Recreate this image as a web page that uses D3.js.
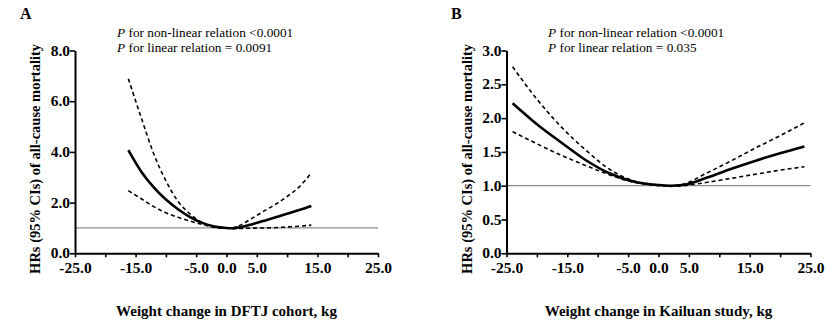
<!DOCTYPE html>
<html>
<head>
<meta charset="utf-8">
<script src="https://cdn.jsdelivr.net/npm/d3@7.9.0/dist/d3.min.js"></script>
<style>
  body { margin: 0; background: #fff; }
  svg text { font-family: "Liberation Serif", "Times New Roman", serif; fill: #000; }
</style>
</head>
<body>
<svg id="chart" width="831" height="325"></svg>
<script>
// Panel A: DFTJ cohort
const xA = [-16.2, -14, -12, -10, -8, -6, -4, -2, 0, 1, 2, 4, 6, 8, 10, 12, 14];
const hrA = [4.07, 3.20, 2.60, 2.12, 1.74, 1.43, 1.20, 1.06, 1.00, 0.99, 1.02, 1.13, 1.27, 1.41, 1.56, 1.71, 1.87];
const upA = [6.89, 5.30, 3.92, 2.86, 2.05, 1.55, 1.20, 1.05, 1.00, 1.01, 1.08, 1.35, 1.64, 1.92, 2.24, 2.62, 3.17];
const loA = [2.47, 2.14, 1.84, 1.60, 1.42, 1.27, 1.14, 1.03, 0.99, 0.98, 0.98, 0.99, 1.00, 1.01, 1.04, 1.07, 1.11];

// Panel B: Kailuan study
const xB = [-24, -20, -16, -12, -8, -4, -2, 0, 2, 4, 8, 12, 16, 20, 24];
const hrB = [2.22, 1.91, 1.64, 1.38, 1.18, 1.06, 1.03, 1.01, 1.00, 1.01, 1.12, 1.25, 1.37, 1.48, 1.58];
const upB = [2.76, 2.28, 1.87, 1.53, 1.24, 1.07, 1.03, 1.01, 1.00, 1.02, 1.19, 1.37, 1.56, 1.74, 1.93];
const loB = [1.80, 1.62, 1.45, 1.30, 1.16, 1.05, 1.02, 1.00, 0.99, 1.00, 1.05, 1.11, 1.17, 1.23, 1.28];

const xTicks = [-25, -20, -15, -10, -5, 0, 5, 10, 15, 20, 25];
const xTickLabels = [-25, -15, -5, 0, 5, 15, 25];
const yTicksA = [0, 2, 4, 6, 8];
const yTicksB = [0, 0.5, 1, 1.5, 2, 2.5, 3];

const yTitle = 'HRs (95% CIs) of all-cause mortality';

const panels = [
  { letter: 'A', x: xA, hr: hrA, up: upA, lo: loA, yTicks: yTicksA, yMax: 8,
    left: 75, right: 378, letterX: 20, textX: 117, yTitleX: 40,
    pLinear: '0.0091', xTitle: 'Weight change in DFTJ cohort, kg' },
  { letter: 'B', x: xB, hr: hrB, up: upB, lo: loB, yTicks: yTicksB, yMax: 3,
    left: 506.5, right: 810.5, letterX: 451, textX: 548, yTitleX: 472,
    pLinear: '0.035', xTitle: 'Weight change in Kailuan study, kg' }
];

const plotTop = 50.5, plotBottom = 253.3;
const fmt = (d) => d.toFixed(1);   // plain hyphen for negatives
const svg = d3.select('#chart');

panels.forEach((p) => {
  const x = d3.scaleLinear().domain([-25, 25]).range([p.left, p.right]);
  const y = d3.scaleLinear().domain([0, p.yMax]).range([plotBottom, plotTop]);
  const g = svg.append('g');

  // reference line at HR = 1
  g.append('line')
    .attr('x1', x(-25)).attr('x2', x(25))
    .attr('y1', y(1)).attr('y2', y(1))
    .attr('stroke', '#8a8a8a').attr('stroke-width', 1.3);

  const line = (vals) => d3.line()
    .x((d, i) => x(p.x[i]))
    .y((d) => y(d))
    .curve(d3.curveMonotoneX)(vals);

  g.append('path').attr('d', line(p.up))
    .attr('fill', 'none').attr('stroke', '#000')
    .attr('stroke-width', 1.6).attr('stroke-dasharray', '4,3');
  g.append('path').attr('d', line(p.lo))
    .attr('fill', 'none').attr('stroke', '#000')
    .attr('stroke-width', 1.6).attr('stroke-dasharray', '4,3');
  g.append('path').attr('d', line(p.hr))
    .attr('fill', 'none').attr('stroke', '#000')
    .attr('stroke-width', 2.6);

  // axes
  const xAxis = d3.axisBottom(x)
    .tickValues(xTicks)
    .tickSize(4)
    .tickSizeOuter(0)
    .tickFormat((d) => xTickLabels.includes(d) ? fmt(d) : '');
  const gx = g.append('g').attr('transform', `translate(0,${plotBottom})`).call(xAxis);

  const yAxis = d3.axisLeft(y)
    .tickValues(p.yTicks)
    .tickSize(5)
    .tickSizeOuter(0)
    .tickFormat(fmt);
  const gy = g.append('g').attr('transform', `translate(${p.left},0)`).call(yAxis);

  [gx, gy].forEach((ax) => {
    ax.select('.domain').attr('stroke', '#000').attr('stroke-width', 2);
    ax.selectAll('.tick line').attr('stroke', '#000').attr('stroke-width', 1.6);
    ax.selectAll('.tick text')
      .attr('font-family', '"Liberation Serif", serif')
      .attr('font-weight', 'bold')
      .attr('font-size', 15.5);
  });
  gx.selectAll('.tick text').attr('dy', '0.71em').attr('y', 9);
  gy.selectAll('.tick text').attr('x', -5).attr('dy', '0.3em');

  // titles
  g.append('text')
    .attr('x', p.letterX).attr('y', 19)
    .attr('font-weight', 'bold').attr('font-size', 16)
    .text(p.letter);

  const t1 = g.append('text').attr('x', p.textX).attr('y', 37).attr('font-size', 13.3);
  t1.append('tspan').attr('font-style', 'italic').text('P');
  t1.append('tspan').text(' for non-linear relation <0.0001');
  const t2 = g.append('text').attr('x', p.textX).attr('y', 52).attr('font-size', 13.3);
  t2.append('tspan').attr('font-style', 'italic').text('P');
  t2.append('tspan').text(' for linear relation = ' + p.pLinear);

  g.append('text')
    .attr('transform', `translate(${p.yTitleX},${(plotTop + plotBottom) / 2 + 7}) rotate(-90)`)
    .attr('text-anchor', 'middle')
    .attr('font-weight', 'bold').attr('font-size', 14.5)
    .text(yTitle);

  g.append('text')
    .attr('x', (p.left + p.right) / 2).attr('y', 316)
    .attr('text-anchor', 'middle')
    .attr('font-weight', 'bold').attr('font-size', 15)
    .text(p.xTitle);
});
</script>
</body>
</html>
